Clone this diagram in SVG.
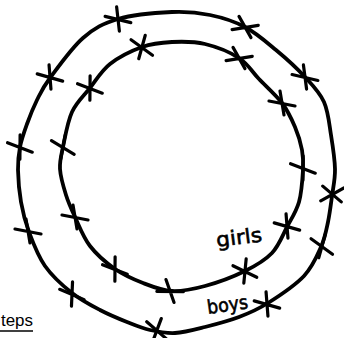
<svg xmlns="http://www.w3.org/2000/svg" xmlns:xlink="http://www.w3.org/1999/xlink" width="344" height="338" viewBox="0 0 344 338">
<style>
.wire{fill:none;stroke:#000;stroke-width:3.8;stroke-linecap:round;stroke-linejoin:round}
.mark{fill:none;stroke:#000;stroke-width:3.2;stroke-linecap:round}
.hand{font-family:"DejaVu Sans","Liberation Sans",sans-serif;fill:#000;stroke:#000;stroke-width:0.6}
.cap{font-family:"Liberation Sans","DejaVu Sans",sans-serif;fill:#000}
</style>
<defs>
<path id="x" class="mark" d="M-13,-2 L13,3 M-2,-12 L2,12"/>
</defs>
<rect width="344" height="338" fill="#fff"/>
<g id="connectors">
<path id="outer" class="wire" d="M172,12 C187.3,11.3 197.8,12.5 210,15 S234,21.2 245,27 S266,41.7 276,50 S297,68.3 305,77 S319.7,92.3 324,102 S329.2,123.8 331,135 S334.8,158.8 335,169 S333.2,187.2 332,196 S329.8,213.5 328,222 S325,238 321,247 S312.8,266.7 304,276 S278.8,296.2 268,303 S249.5,313 239,317 S215.7,324.3 205,327 S184.2,332.5 175,333 S158,331.8 150,330 S135.3,325.3 127,322 S109.2,314.8 100,310 S81.2,300.3 72,293 S52.2,276.2 45,266 S33,242.7 29,232 S22.8,212.3 21,202 S18.2,179.2 18,170 S18.5,154.7 20,147 S24.2,131.8 27,124 S33.2,107.7 37,100 S42.3,88.3 50,78 S71.7,47.8 83,38 S103.2,23.3 118,19 S156.7,12.7 172,12 Z"/>
<path id="inner" class="wire" d="M172,42 C182.5,41.5 193.8,41.3 205,44 S230,52.2 239,58 S251.8,71.5 259,79 S276,95 282,103 S291.7,119.2 295,127 S300.7,142.8 302,150 S303.5,161.3 303,170 S301.7,192.5 299,202 S291.5,218.5 287,227 S279,245.7 272,253 S256.2,265.5 245,271 S217.2,282.7 205,286 S182.3,291.5 172,291 S152.5,286.7 143,283 S123.8,275.2 115,269 S96.7,254.7 90,246 S79,225.5 75,217 S68.5,203 66,195 S60.5,177 60,169 S61,156.5 63,147 S67.5,121.8 72,112 S83.7,96 90,88 S101.3,70.8 110,64 S131.7,50.7 142,47 S161.5,42.5 172,42 Z"/>
</g>
<g id="outer-marks">
<use xlink:href="#x" transform="translate(118,19) rotate(3)"/>
<use xlink:href="#x" transform="translate(245,27) rotate(-20)"/>
<use xlink:href="#x" transform="translate(305,77) rotate(2)"/>
<use xlink:href="#x" transform="translate(332,194) rotate(-40)"/>
<use xlink:href="#x" transform="translate(322,246) rotate(25)"/>
<use xlink:href="#x" transform="translate(267,304) rotate(5)"/>
<use xlink:href="#x" transform="translate(157,330) rotate(30)"/>
<use xlink:href="#x" transform="translate(72,294) rotate(12)"/>
<use xlink:href="#x" transform="translate(28,231) rotate(0)"/>
<use xlink:href="#x" transform="translate(20,147) rotate(10)"/>
<use xlink:href="#x" transform="translate(50,77) rotate(5)"/>
</g>
<g id="inner-marks">
<use xlink:href="#x" transform="translate(142,47) rotate(25)"/>
<use xlink:href="#x" transform="translate(239,58) rotate(-20)"/>
<use xlink:href="#x" transform="translate(282,103) rotate(0)"/>
<use xlink:href="#x" transform="translate(303,168) rotate(10)"/>
<use xlink:href="#x" transform="translate(287,226) rotate(5)"/>
<use xlink:href="#x" transform="translate(245,271) rotate(15)"/>
<use xlink:href="#x" transform="translate(170,291) rotate(-10)"/>
<use xlink:href="#x" transform="translate(115,269) rotate(10)"/>
<use xlink:href="#x" transform="translate(75,217) rotate(0)"/>
<use xlink:href="#x" transform="translate(63,147) rotate(20)"/>
<use xlink:href="#x" transform="translate(90,88) rotate(10)"/>
</g>
<g id="label-girls">
<text class="hand" x="217" y="247" font-size="20" textLength="46" lengthAdjust="spacingAndGlyphs" transform="rotate(-7 217 247)">girls</text>
</g>
<g id="label-boys">
<text class="hand" x="208" y="314" font-size="19" textLength="41" lengthAdjust="spacingAndGlyphs" transform="rotate(-8 208 314)">boys</text>
</g>
<g id="caption">
<text class="cap" x="1" y="326" font-size="16" textLength="32" lengthAdjust="spacingAndGlyphs">teps</text>
<line x1="0" y1="331" x2="33" y2="331" stroke="#000" stroke-width="1.5"/>
</g>
</svg>
